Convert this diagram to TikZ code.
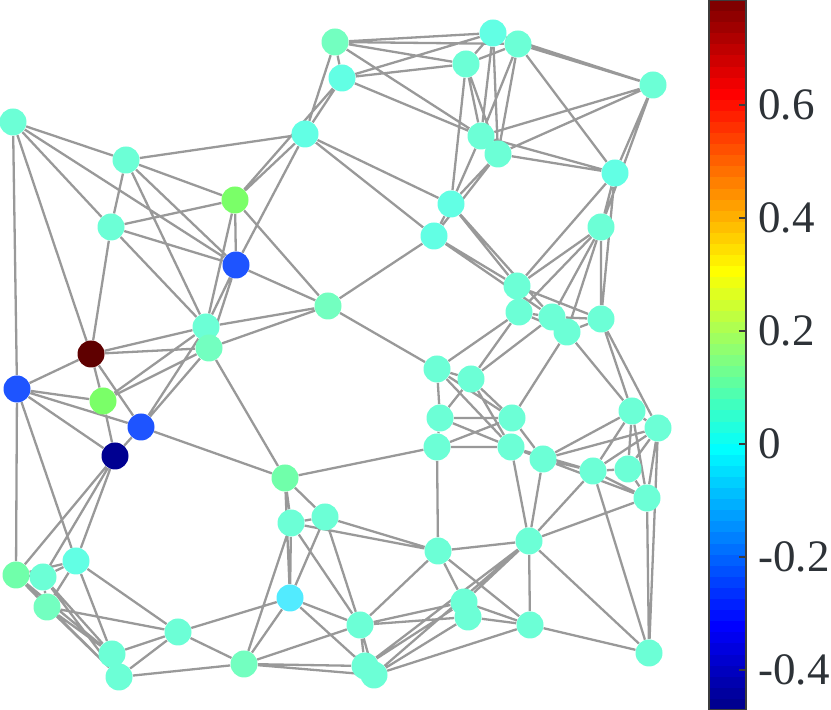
\documentclass[tikz,border=0pt]{standalone}
\usepackage{fontspec}
\setmainfont{Liberation Serif}
\usetikzlibrary{backgrounds}
\definecolor{edgegray}{RGB}{153,153,153}
\definecolor{cmain}{RGB}{108,255,214}
\definecolor{cteal}{RGB}{115,255,192}
\definecolor{cmint}{RGB}{112,255,170}
\definecolor{caqua}{RGB}{98,255,228}
\definecolor{ccyan}{RGB}{82,235,255}
\definecolor{cgreen}{RGB}{122,255,104}
\definecolor{cblue}{RGB}{30,84,255}
\definecolor{cnavy}{RGB}{0,0,145}
\definecolor{cdred}{RGB}{95,0,0}
\definecolor{barframe}{RGB}{60,60,60}
\definecolor{labelgray}{RGB}{45,50,55}
\begin{document}
\begin{tikzpicture}[x=0.5pt,y=-0.5pt,
  nd/.style={circle,inner sep=0pt,minimum size=13.5pt,fill=#1},
  ed/.style={draw=edgegray,line width=1.15pt},
  cblabel/.style={anchor=west,inner sep=0pt,text=labelgray,font=\fontsize{22.5}{26}\selectfont}]
\useasboundingbox (0,0) rectangle (831,710);
% ---- nodes: left part
\node[nd=cmain] (A) at (13,122) {};
\node[nd=cmain] (B) at (126,160) {};
\node[nd=caqua] (C) at (305,134) {};
\node[nd=cgreen] (D) at (235,200) {};
\node[nd=cmain] (E) at (111,227) {};
\node[nd=cblue] (F) at (236,265) {};
\node[nd=cteal] (G) at (328,306) {};
\node[nd=cmain] (H) at (206,327) {};
\node[nd=cteal] (I) at (209,348) {};
\node[nd=cdred] (J) at (91,354) {};
\node[nd=cblue] (K) at (17,389) {};
\node[nd=cgreen] (L) at (103,401) {};
\node[nd=cblue] (M) at (141,427) {};
\node[nd=cnavy] (N) at (115,456) {};
\node[nd=cmint] (O) at (285,478) {};
\node[nd=cmain] (P) at (291,523) {};
\node[nd=cmain] (Q) at (325,517) {};
\node[nd=caqua] (R) at (76,561) {};
\node[nd=cmint] (S) at (16,575) {};
\node[nd=cmain] (T) at (43,577) {};
\node[nd=cteal] (U) at (47,607) {};
\node[nd=ccyan] (V) at (290,598) {};
\node[nd=cmain] (W) at (178,632) {};
\node[nd=cmain] (X) at (112,654) {};
\node[nd=cmain] (Y) at (119,677) {};
\node[nd=cteal] (Z) at (244,664) {};
% ---- nodes: lower right part
\node[nd=cmain] (a1) at (437,369) {};
\node[nd=cmain] (a2) at (471,379) {};
\node[nd=cmain] (a3) at (440,418) {};
\node[nd=cmain] (a4) at (512,418) {};
\node[nd=cmain] (a5) at (437,447) {};
\node[nd=cmain] (a6) at (511,447) {};
\node[nd=cmain] (a7) at (543,459) {};
\node[nd=cmain] (a8) at (593,471) {};
\node[nd=cmain] (a9) at (628,469) {};
\node[nd=cmain] (a10) at (632,411) {};
\node[nd=cmain] (a11) at (658,428) {};
\node[nd=cmain] (a12) at (647,498) {};
\node[nd=cmain] (a14) at (438,551) {};
\node[nd=cmain] (a15) at (529,541) {};
\node[nd=cmain] (a16) at (464,602) {};
\node[nd=cmain] (a17) at (468,617) {};
\node[nd=cmain] (a18) at (360,625) {};
\node[nd=cmain] (a19) at (530,625) {};
\node[nd=cmain] (a20) at (649,653) {};
\node[nd=cmain] (a21) at (365,666) {};
\node[nd=cmain] (a22) at (374,675) {};
% ---- nodes: upper right part
\node[nd=cteal] (b1) at (335,42) {};
\node[nd=caqua] (b2) at (493,33) {};
\node[nd=cmain] (b3) at (518,44) {};
\node[nd=cmain] (b4) at (466,64) {};
\node[nd=caqua] (b5) at (342,78) {};
\node[nd=cmain] (b6) at (653,85) {};
\node[nd=cmain] (b7) at (481,136) {};
\node[nd=cmain] (b8) at (498,154) {};
\node[nd=caqua] (b9) at (615,173) {};
\node[nd=caqua] (b10) at (451,204) {};
\node[nd=caqua] (b11) at (434,236) {};
\node[nd=cmain] (b12) at (601,227) {};
\node[nd=cmain] (b13) at (517,286) {};
\node[nd=cmain] (b14) at (519,312) {};
\node[nd=cmain] (b15) at (552,317) {};
\node[nd=cmain] (b16) at (567,332) {};
\node[nd=cmain] (b17) at (601,319) {};
% ---- edges
\begin{pgfonlayer}{background}
\draw[ed] (A)--(B) (A)--(E) (A)--(F) (A)--(J) (A)--(K)
  (B)--(C) (B)--(D) (B)--(E) (B)--(F) (B)--(H)
  (C)--(D) (C)--(F) (C)--(b1) (C)--(b5) (C)--(b10) (C)--(b11) (b5)--(D)
  (D)--(E) (D)--(F) (D)--(G) (D)--(H)
  (E)--(F) (E)--(H) (E)--(J)
  (F)--(G) (F)--(H) (F)--(I)
  (G)--(H) (G)--(I) (G)--(a1) (G)--(b11)
  (H)--(J) (H)--(L) (H)--(M)
  (I)--(J) (I)--(L) (I)--(M) (I)--(O)
  (J)--(K) (J)--(L) (J)--(M)
  (K)--(L) (K)--(M) (K)--(N) (K)--(R) (K)--(S)
  (L)--(N) (M)--(N) (M)--(O)
  (N)--(R) (N)--(S) (N)--(T)
  (O)--(P) (O)--(Q) (O)--(V) (O)--(a5)
  (P)--(Q) (P)--(V) (P)--(Z) (P)--(a14) (P)--(a18)
  (Q)--(V) (Q)--(a14) (Q)--(a18)
  (R)--(S) (R)--(T) (R)--(U) (R)--(W) (R)--(X)
  (S)--(T) (S)--(U) (S)--(X) (S)--(Y)
  (T)--(X) (T)--(Y) (T)--(U)
  (U)--(W) (U)--(X) (U)--(Y)
  (V)--(W) (V)--(Z) (V)--(a18) (V)--(a21)
  (W)--(X) (W)--(Y) (W)--(Z)
  (X)--(Y) (Y)--(Z)
  (Z)--(a18) (Z)--(a21) (Z)--(a22);
\draw[ed] (a1)--(a2) (a1)--(a3) (a1)--(a4) (a1)--(a6) (a1)--(b14)
  (a2)--(a3) (a2)--(a4) (a2)--(a6) (a2)--(b14) (a2)--(b15)
  (a3)--(a4) (a3)--(a5) (a3)--(a6)
  (a4)--(a5) (a4)--(a7) (a4)--(b16)
  (a5)--(a6) (a5)--(a14)
  (a6)--(a7) (a6)--(a8) (a6)--(a15)
  (a7)--(a8) (a7)--(a10) (a7)--(a11) (a7)--(a15) (a7)--(a12)
  (a8)--(a9) (a8)--(a10) (a8)--(a11) (a8)--(a12) (a8)--(a15) (a8)--(a20)
  (a9)--(a10) (a9)--(a11) (a9)--(a12)
  (a10)--(a11) (a10)--(a12) (a10)--(b16) (a10)--(b17)
  (a11)--(a12) (a11)--(a20) (a11)--(b17)
  (a12)--(a15) (a12)--(a20)
  (a14)--(a15) (a14)--(a16) (a14)--(a18) (a14)--(a19)
  (a15)--(a16) (a15)--(a19) (a15)--(a20) (a15)--(a21) (a15)--(a22)
  (a16)--(a17) (a16)--(a18) (a16)--(a19) (a16)--(a21)
  (a17)--(a18) (a17)--(a19) (a17)--(a22)
  (a18)--(a21) (a18)--(a22)
  (a19)--(a20) (a19)--(a22)
  (a21)--(a22);
\draw[ed] (b1)--(b2) (b1)--(b3) (b1)--(b4) (b1)--(b5) (b1)--(b7)
  (b5)--(b2) (b5)--(b4) (b5)--(b7)
  (b2)--(b4) (b2)--(b7) (b2)--(b8) (b2)--(b6)
  (b3)--(b4) (b3)--(b6) (b3)--(b7) (b3)--(b8) (b3)--(b9)
  (b4)--(b7) (b4)--(b8) (b4)--(b10)
  (b6)--(b7) (b6)--(b8) (b6)--(b9) (b6)--(b12)
  (b7)--(b8) (b7)--(b9) (b7)--(b10)
  (b8)--(b9) (b8)--(b10) (b8)--(b11)
  (b9)--(b12) (b9)--(b13) (b9)--(b17)
  (b10)--(b11) (b10)--(b13) (b10)--(b15)
  (b11)--(b13) (b11)--(b15)
  (b12)--(b13) (b12)--(b14) (b12)--(b15) (b12)--(b16) (b12)--(b17)
  (b13)--(b14) (b13)--(b17)
  (b14)--(b15) (b14)--(b16)
  (b15)--(b16) (b15)--(b17)
  (b16)--(b17);
\end{pgfonlayer}
% ---- colorbar (jet, 64 levels)
\foreach \k in {1,...,64}{
  \pgfmathsetmacro{\cr}{max(0,min(1,min((\k-24)/16,(72-\k)/16)))}
  \pgfmathsetmacro{\cg}{max(0,min(1,min((\k-8)/16,(56-\k)/16)))}
  \pgfmathsetmacro{\cb}{max(0,min(1,min((\k+8)/16,(40-\k)/16)))}
  \pgfmathsetmacro{\ytop}{710-\k*11.09375-0.3}
  \pgfmathsetmacro{\ybot}{710-(\k-1)*11.09375}
  \definecolor{jc}{rgb}{\cr,\cg,\cb}
  \fill[jc] (709,\ytop) rectangle (746,\ybot);
}
\draw[barframe,line width=0.6pt] (709,0.6) rectangle (746,709.4);
\foreach \yy/\lab in {105/0.6,218/0.4,331/0.2,444/0,557/-0.2,670/-0.4}{
  \draw[barframe,line width=0.6pt] (739,\yy) -- (746,\yy);
  \node[cblabel] (lab\yy) at (758,\yy) {\lab};
}
\end{tikzpicture}
\end{document}
